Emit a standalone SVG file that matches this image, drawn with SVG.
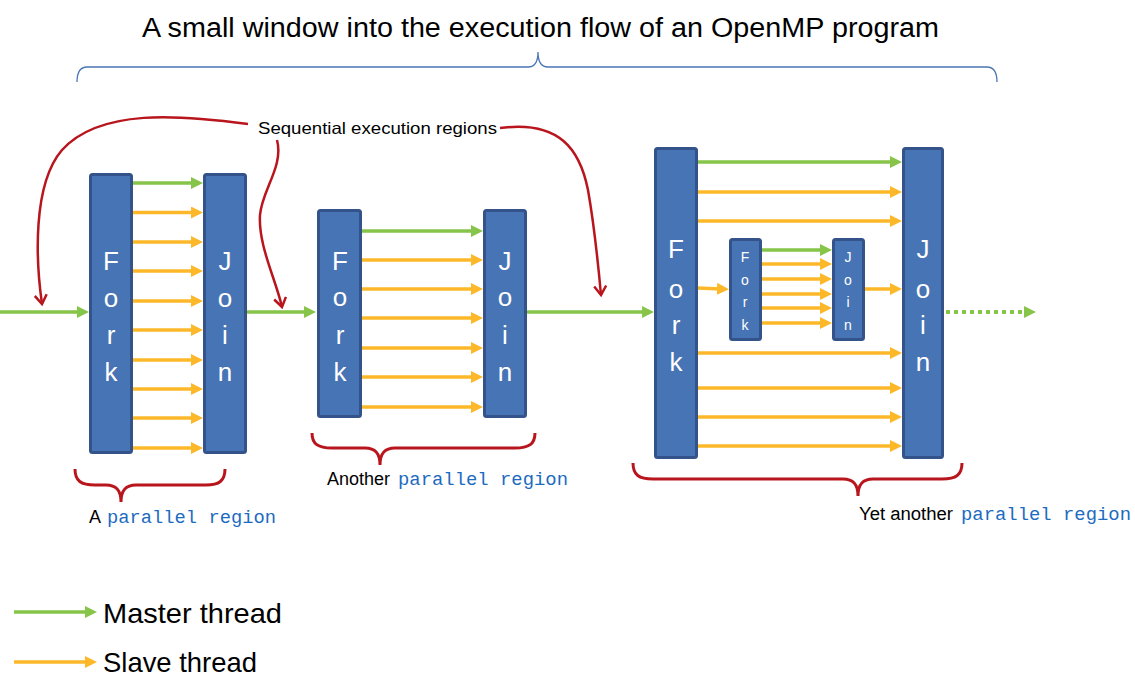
<svg xmlns="http://www.w3.org/2000/svg" width="1135" height="685" viewBox="0 0 1135 685">
<style>
.box{fill:#4774b4;stroke:#34538a;stroke-width:3}
.lt{fill:#fff;font-family:"Liberation Sans",Arial,sans-serif;font-size:26px;text-anchor:middle}
.ls{fill:#fff;font-family:"Liberation Sans",Arial,sans-serif;font-size:14px;text-anchor:middle}
.g{stroke:#86c44a;stroke-width:3.5;fill:none;marker-end:url(#ag)}
.o{stroke:#fdb82a;stroke-width:3.5;fill:none;marker-end:url(#ao)}
.red{stroke:#b8151d;stroke-width:2.5;fill:none}
.rc{stroke:#b8151d;stroke-width:2.5;fill:none;marker-end:url(#ar)}
.txt{fill:#000;font-family:"Liberation Sans",Arial,sans-serif}
.mono{fill:#1c6bbf;font-family:"Liberation Mono","Courier New",monospace;font-size:18.5px}
</style>
<defs>
<marker id="ag" markerUnits="userSpaceOnUse" markerWidth="12" markerHeight="12" viewBox="0 0 12 12" refX="4" refY="6" orient="auto"><path d="M0,0 L12,6 L0,12 z" fill="#86c44a"/></marker>
<marker id="ao" markerUnits="userSpaceOnUse" markerWidth="12" markerHeight="12" viewBox="0 0 12 12" refX="4" refY="6" orient="auto"><path d="M0,0 L12,6 L0,12 z" fill="#fdb82a"/></marker>
<marker id="ar" markerUnits="userSpaceOnUse" markerWidth="14" markerHeight="14" viewBox="0 0 14 14" refX="11" refY="7" orient="auto"><path d="M2,1 L11,7 L2,13" fill="none" stroke="#b8151d" stroke-width="2.5"/></marker>
</defs>

<text class="txt" x="142" y="37" font-size="27" textLength="797" lengthAdjust="spacingAndGlyphs">A small window into the execution flow of an OpenMP program</text>
<path d="M77,82 Q77,67 87,67 L528,67 Q538,67 538,52 Q538,67 548,67 L987,67 Q997,67 997,82" fill="none" stroke="#4a76b4" stroke-width="1.3"/>

<g id="connectors">
<line class="g" x1="0" y1="312" x2="81" y2="312"/>
<line class="g" x1="247" y1="312" x2="308" y2="312"/>
<line class="g" x1="527" y1="312" x2="646" y2="312"/>
<line x1="946" y1="312" x2="1028" y2="312" stroke="#86c44a" stroke-width="4" stroke-dasharray="4,4" marker-end="url(#ag)"/>

<line class="g" x1="133" y1="183" x2="195" y2="183"/>
<line class="o" x1="133" y1="212.5" x2="195" y2="212.5"/>
<line class="o" x1="133" y1="242" x2="195" y2="242"/>
<line class="o" x1="133" y1="271" x2="195" y2="271"/>
<line class="o" x1="133" y1="301" x2="195" y2="301"/>
<line class="o" x1="133" y1="330" x2="195" y2="330"/>
<line class="o" x1="133" y1="360" x2="195" y2="360"/>
<line class="o" x1="133" y1="389" x2="195" y2="389"/>
<line class="o" x1="133" y1="418" x2="195" y2="418"/>
<line class="o" x1="133" y1="448" x2="195" y2="448"/>

<line class="g" x1="362" y1="231" x2="475" y2="231"/>
<line class="o" x1="362" y1="260" x2="475" y2="260"/>
<line class="o" x1="362" y1="289" x2="475" y2="289"/>
<line class="o" x1="362" y1="318" x2="475" y2="318"/>
<line class="o" x1="362" y1="348" x2="475" y2="348"/>
<line class="o" x1="362" y1="377" x2="475" y2="377"/>
<line class="o" x1="362" y1="407" x2="475" y2="407"/>

<line class="g" x1="698" y1="162" x2="894" y2="162"/>
<line class="o" x1="698" y1="192" x2="894" y2="192"/>
<line class="o" x1="698" y1="221" x2="894" y2="221"/>
<line class="o" x1="698" y1="353" x2="894" y2="353"/>
<line class="o" x1="698" y1="388" x2="894" y2="388"/>
<line class="o" x1="698" y1="417" x2="894" y2="417"/>
<line class="o" x1="698" y1="446" x2="894" y2="446"/>
<line class="o" x1="698" y1="288" x2="721" y2="289"/>
<line class="o" x1="865" y1="289" x2="894" y2="289"/>

<line class="g" x1="762" y1="250" x2="824" y2="250"/>
<line class="o" x1="762" y1="264" x2="824" y2="264"/>
<line class="o" x1="762" y1="279" x2="824" y2="279"/>
<line class="o" x1="762" y1="294" x2="824" y2="294"/>
<line class="o" x1="762" y1="308" x2="824" y2="308"/>
<line class="o" x1="762" y1="323" x2="824" y2="323"/>

<path class="rc" d="M248,124 C180,115 100,108 62,150 C32,185 36,262 42,304"/>
<path class="rc" d="M277,140 C284,166 262,190 260,215 C258,245 276,280 282,307"/>
<path class="rc" d="M500,128 C560,120 580,150 588,190 C595,230 598,262 601,295"/>
</g>

<g id="fork1"><rect class="box" x="90.5" y="174.5" width="41" height="278" rx="2"/>
<text class="lt" x="111" y="270">F</text><text class="lt" x="111" y="307">o</text><text class="lt" x="111" y="344">r</text><text class="lt" x="111" y="381">k</text></g>
<g id="join1"><rect class="box" x="204.5" y="174.5" width="41" height="278" rx="2"/>
<text class="lt" x="225" y="270">J</text><text class="lt" x="225" y="307">o</text><text class="lt" x="225" y="344">i</text><text class="lt" x="225" y="381">n</text></g>

<g id="fork2"><rect class="box" x="318.5" y="210.5" width="42" height="206" rx="2"/>
<text class="lt" x="340" y="270">F</text><text class="lt" x="340" y="306">o</text><text class="lt" x="340" y="344">r</text><text class="lt" x="340" y="381">k</text></g>
<g id="join2"><rect class="box" x="484.5" y="210.5" width="41" height="206" rx="2"/>
<text class="lt" x="505" y="270">J</text><text class="lt" x="505" y="306">o</text><text class="lt" x="505" y="344">i</text><text class="lt" x="505" y="381">n</text></g>

<g id="fork3"><rect class="box" x="655.5" y="148.5" width="41" height="309" rx="2"/>
<text class="lt" x="676" y="258">F</text><text class="lt" x="676" y="298">o</text><text class="lt" x="676" y="334">r</text><text class="lt" x="676" y="371">k</text></g>
<g id="join3"><rect class="box" x="903.5" y="148.5" width="39" height="309" rx="2"/>
<text class="lt" x="923" y="258">J</text><text class="lt" x="923" y="298">o</text><text class="lt" x="923" y="334">i</text><text class="lt" x="923" y="371">n</text></g>

<g id="fork4"><rect class="box" x="730.5" y="239.5" width="30" height="100" rx="2"/>
<text class="ls" x="745" y="262">F</text><text class="ls" x="745" y="285">o</text><text class="ls" x="745" y="307">r</text><text class="ls" x="745" y="330">k</text></g>
<g id="join4"><rect class="box" x="833.5" y="239.5" width="30" height="100" rx="2"/>
<text class="ls" x="848" y="262">J</text><text class="ls" x="848" y="285">o</text><text class="ls" x="848" y="307">i</text><text class="ls" x="848" y="330">n</text></g>

<g id="seq-label"><text class="txt" x="258" y="134" font-size="16.5" textLength="239" lengthAdjust="spacingAndGlyphs">Sequential execution regions</text></g>

<g id="region1">
<path class="red" style="stroke-width:3" d="M75,469 C75,481 81,485 95,485 L106,485 C116,485 121,490 121,502 C121,490 126,485 136,485 L206,485 C219,485 225,481 225,469"/>
<text class="txt" x="89" y="523" font-size="18">A</text>
<text class="mono" x="107" y="523" textLength="169" lengthAdjust="spacingAndGlyphs">parallel region</text>
</g>
<g id="region2">
<path class="red" style="stroke-width:3" d="M312,433 C312,444 318,448 332,448 L365,448 C375,448 380,453 380,465 C380,453 385,448 395,448 L515,448 C529,448 535,444 535,433"/>
<text class="txt" x="327" y="485" font-size="18" textLength="63" lengthAdjust="spacingAndGlyphs">Another</text>
<text class="mono" x="398" y="485" textLength="170" lengthAdjust="spacingAndGlyphs">parallel region</text>
</g>
<g id="region3">
<path class="red" style="stroke-width:3" d="M633,463 C633,475 639,479 653,479 L843,479 C853,479 858,484 858,496 C858,484 863,479 873,479 L942,479 C956,479 962,475 962,463"/>
<text class="txt" x="859" y="520" font-size="18" textLength="94" lengthAdjust="spacingAndGlyphs">Yet another</text>
<text class="mono" x="961" y="520" textLength="170" lengthAdjust="spacingAndGlyphs">parallel region</text>
</g>

<g id="legend">
<line class="g" x1="14" y1="612" x2="89" y2="612"/>
<text class="txt" x="103" y="623" font-size="28" textLength="179" lengthAdjust="spacingAndGlyphs">Master thread</text>
<line class="o" x1="14" y1="662" x2="89" y2="662"/>
<text class="txt" x="103" y="672" font-size="28" textLength="154" lengthAdjust="spacingAndGlyphs">Slave thread</text>
</g>
</svg>
